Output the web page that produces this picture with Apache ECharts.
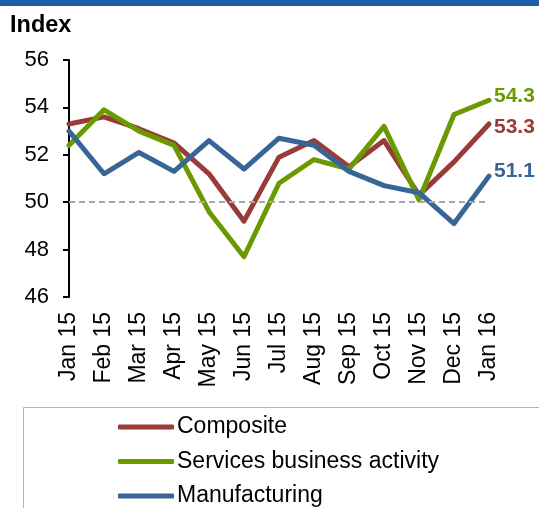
<!DOCTYPE html>
<html>
<head>
<meta charset="utf-8">
<script src="https://cdn.jsdelivr.net/npm/echarts@6/dist/echarts.min.js"></script>
<style>
  html, body { margin: 0; padding: 0; background: #ffffff; }
  #chart { width: 539px; height: 508px; }
</style>
</head>
<body>
<div id="chart"></div>
<script>
// Monthly PMI readings, Jan 2015 - Jan 2016
const months = ['Jan 15', 'Feb 15', 'Mar 15', 'Apr 15', 'May 15', 'Jun 15', 'Jul 15',
                'Aug 15', 'Sep 15', 'Oct 15', 'Nov 15', 'Dec 15', 'Jan 16'];
const composite     = [53.3, 53.6, 53.1, 52.5, 51.2, 49.2, 51.9, 52.6, 51.5, 52.6, 50.3, 51.7, 53.3];
const services      = [52.4, 53.9, 53.0, 52.4, 49.6, 47.7, 50.8, 51.8, 51.4, 53.2, 50.1, 53.7, 54.3];
const manufacturing = [53.0, 51.2, 52.1, 51.3, 52.6, 51.4, 52.7, 52.4, 51.3, 50.7, 50.4, 49.1, 51.1];
const seriesNames   = ['Composite', 'Services business activity', 'Manufacturing'];
const yMin = 46, yMax = 56, yStep = 2;
const neutralLevel = 50;

const FONT = '"Liberation Sans", Arial, sans-serif';
const RED = '#993b39', GREEN = '#6b9a00', BLUE = '#386597';

function lineSeries(name, data, color, labelOffset) {
  return {
    name: name,
    type: 'line',
    data: data,
    z: 3,
    symbol: 'none',
    lineStyle: { color: color, width: 5, join: 'round', cap: 'round' },
    itemStyle: { color: color },
    emphasis: { disabled: true },
    endLabel: {
      show: true,
      formatter: p => Number(p.value).toFixed(1),
      color: color,
      fontFamily: FONT,
      fontSize: 21,
      fontWeight: 'bold',
      distance: 5,
      offset: labelOffset
    }
  };
}

const chart = echarts.init(document.getElementById('chart'), null, { renderer: 'canvas' });
chart.setOption({
  animation: false,
  backgroundColor: '#ffffff',
  textStyle: { fontFamily: FONT },
  graphic: [
    { type: 'rect', left: 0, top: 0, shape: { width: 539, height: 6 }, style: { fill: '#1f5fa9' }, silent: true },
    { type: 'text', left: 10, top: 14, style: { text: 'Index', font: 'bold 23.5px ' + FONT, fill: '#000' }, silent: true },
    { type: 'rect', shape: { x: 23.5, y: 407.5, width: 530, height: 140 },
      style: { fill: 'none', stroke: '#b4b4b4', lineWidth: 1 }, silent: true }
  ],
  grid: { left: 69, right: 50, top: 60, bottom: 211, containLabel: false },
  legend: {
    data: seriesNames,
    orient: 'vertical',
    left: 118,
    top: 415,
    padding: 0,
    itemGap: 10.5,
    itemWidth: 56,
    itemHeight: 5,
    icon: 'roundRect',
    selectedMode: false,
    textStyle: { fontFamily: FONT, fontSize: 23, color: '#000', lineHeight: 24, padding: [0, 0, 0, -2] }
  },
  xAxis: {
    type: 'category',
    data: months,
    boundaryGap: false,
    axisLine: { show: false },
    axisTick: { show: false },
    axisLabel: { interval: 0, rotate: 90, margin: 15, fontFamily: FONT, fontSize: 23, color: '#000' }
  },
  yAxis: {
    type: 'value',
    min: yMin,
    max: yMax,
    interval: yStep,
    axisLine: { show: true, lineStyle: { color: '#000', width: 2 } },
    axisTick: { show: true, length: 6, lineStyle: { color: '#000', width: 2 } },
    splitLine: { show: false },
    axisLabel: { margin: 20, fontFamily: FONT, fontSize: 22, color: '#000' }
  },
  series: [
    {
      name: 'neutral',
      type: 'line',
      data: [],
      z: 1,
      silent: true,
      markLine: {
        silent: true,
        symbol: 'none',
        label: { show: false },
        lineStyle: { color: '#a8a8a8', width: 2, type: [6, 4] },
        data: [{ yAxis: neutralLevel }]
      }
    },
    lineSeries(seriesNames[0], composite, RED, [0, 3]),
    lineSeries(seriesNames[1], services, GREEN, [0, -4]),
    lineSeries(seriesNames[2], manufacturing, BLUE, [0, -5])
  ]
});
</script>
</body>
</html>
